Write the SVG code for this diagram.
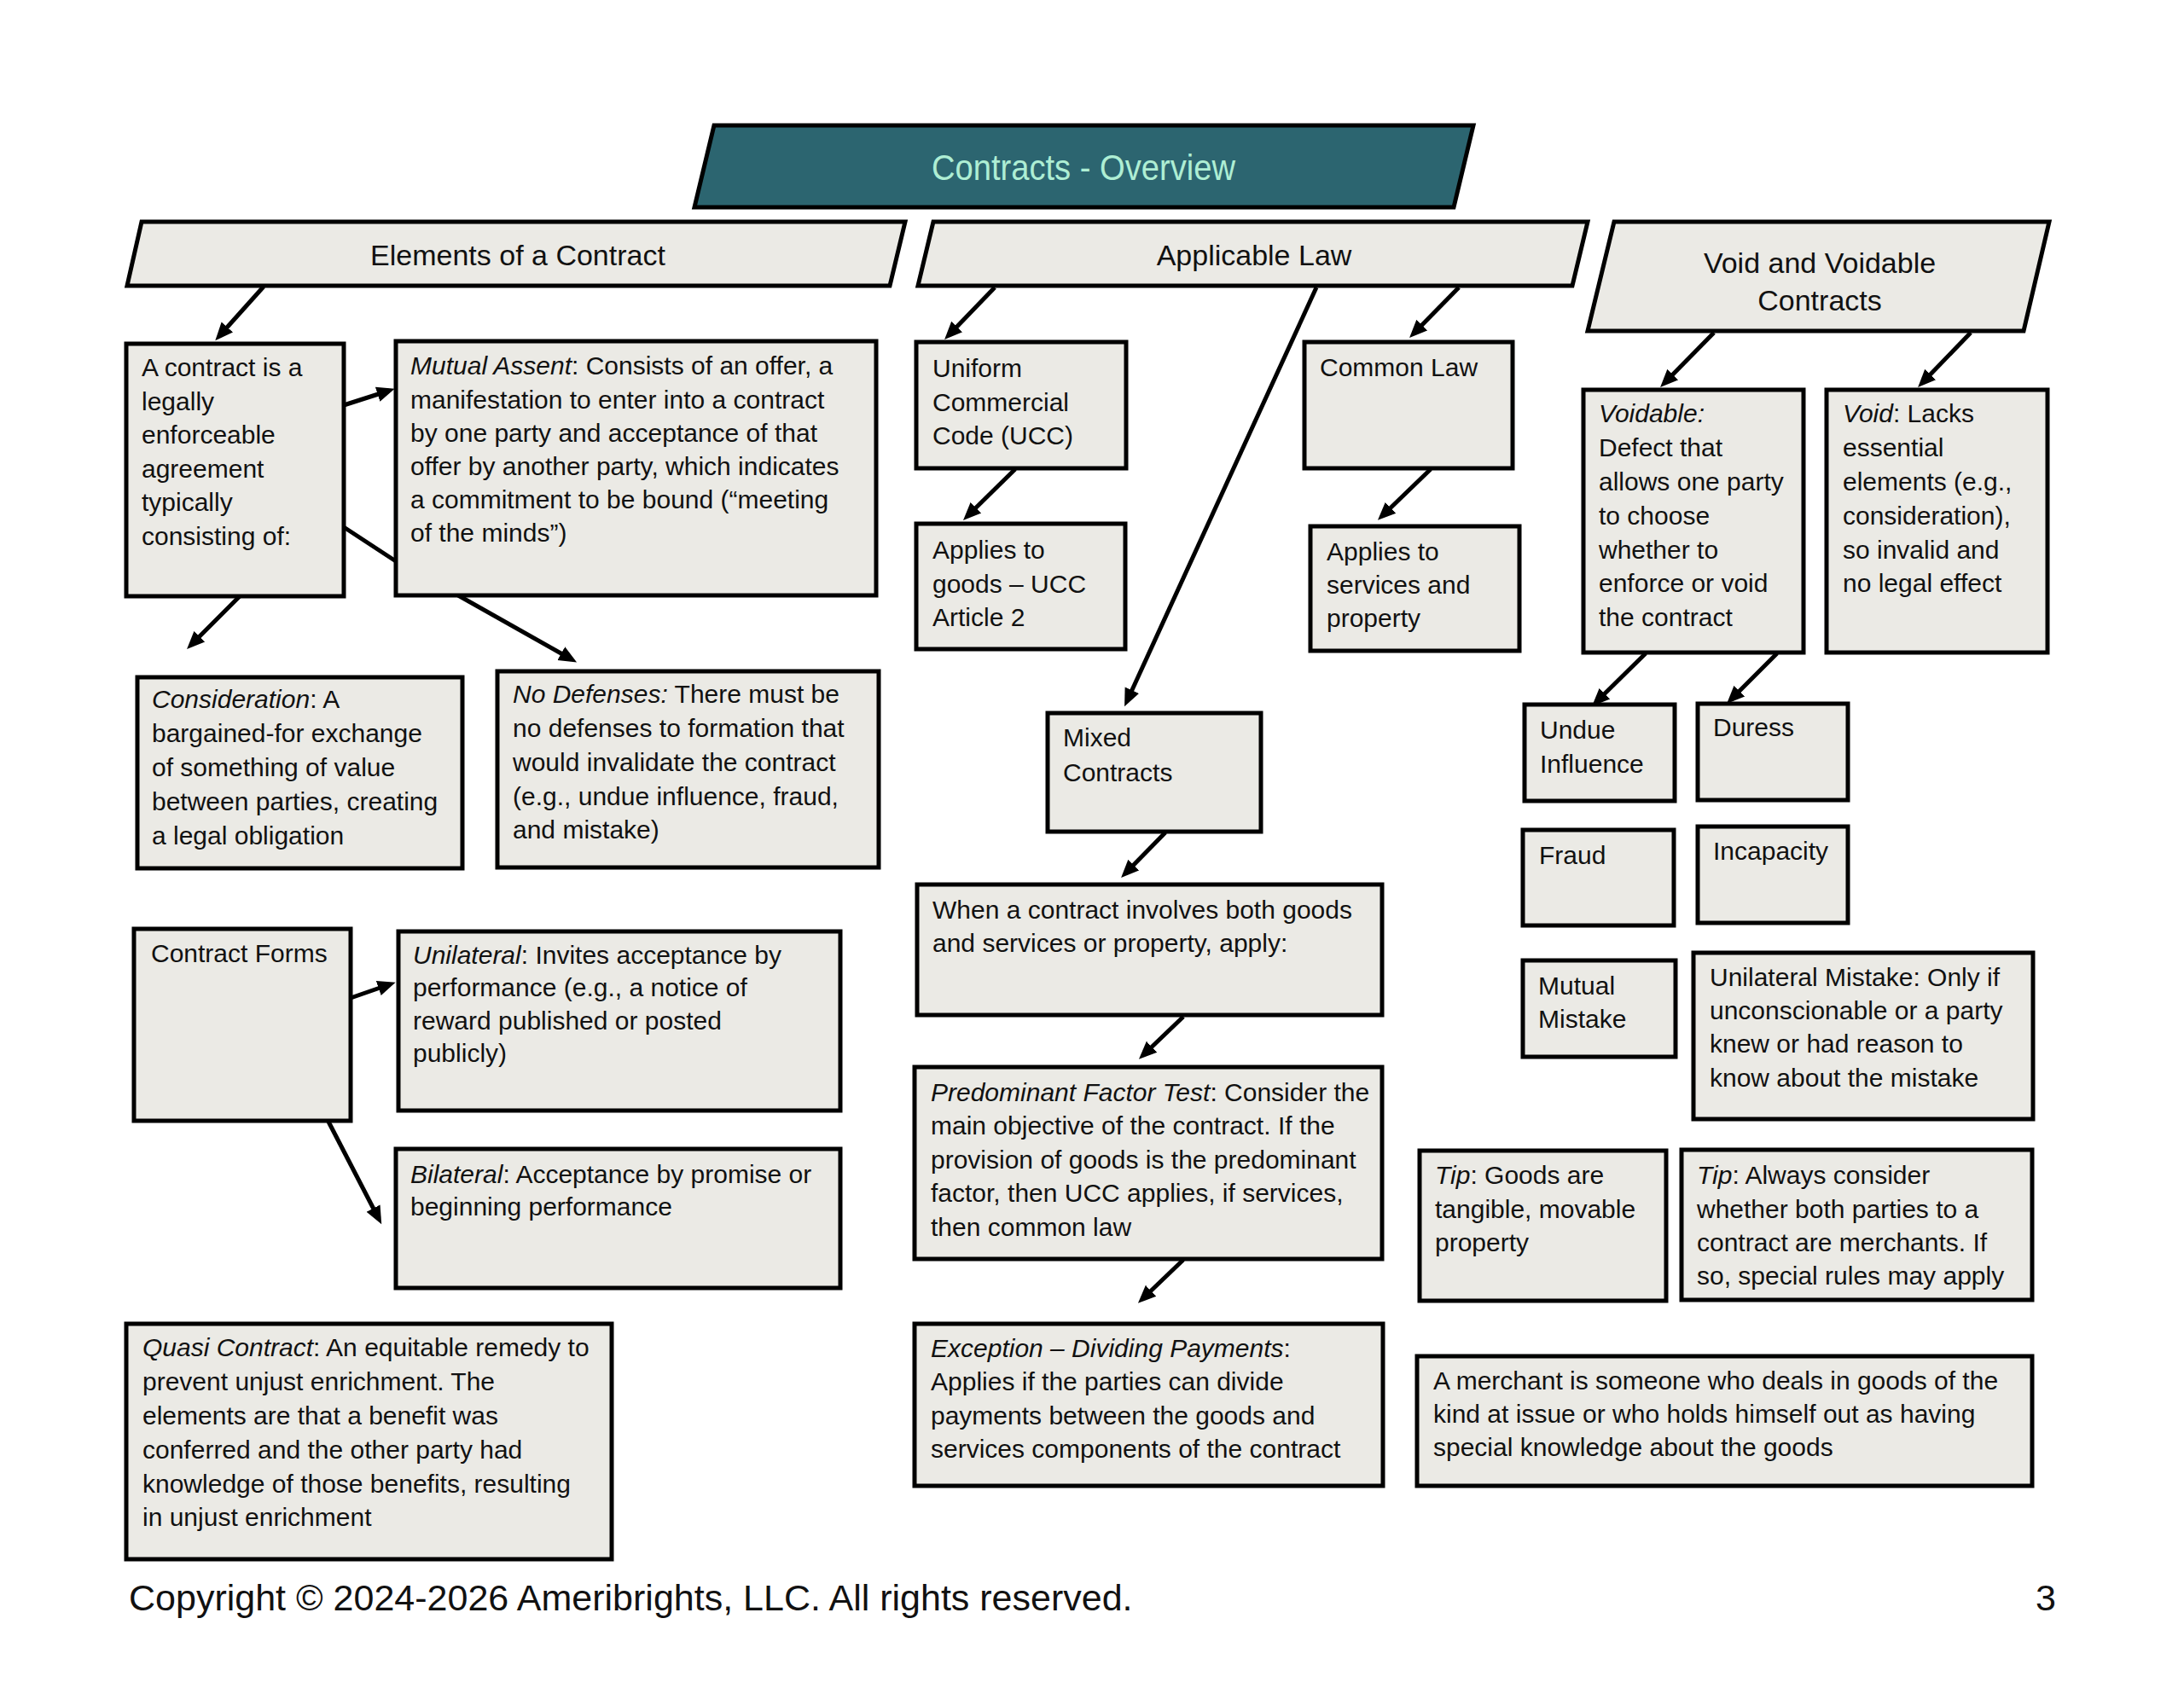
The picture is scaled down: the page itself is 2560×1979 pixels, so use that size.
<svg xmlns="http://www.w3.org/2000/svg" width="2560" height="1979" viewBox="0 0 2560 1979">
<defs>
<style>
.bg{fill:#ffffff}
.box{fill:#ebeae5;stroke:#000;stroke-width:5}
.ttl{fill:#2c6570;stroke:#000;stroke-width:5}
.c{font-family:"Liberation Sans",Arial,sans-serif;font-size:30px;fill:#111}
.r{font-family:"Liberation Sans",Arial,sans-serif;font-size:30px;fill:#111}
.h{font-family:"Liberation Sans",Arial,sans-serif;font-size:34px;fill:#111;text-anchor:middle}
.t{font-family:"Liberation Sans",Arial,sans-serif;font-size:42px;fill:#aeeed4;text-anchor:middle}
.f{font-family:"Liberation Sans",Arial,sans-serif;font-size:43px;fill:#111}
.i{font-style:italic}
.ln{stroke:#000;stroke-width:5;fill:none}
.ar{stroke:#000;stroke-width:5;fill:none;marker-end:url(#ah)}
</style>
<marker id="ah" markerWidth="22" markerHeight="20" refX="14" refY="10" orient="auto" markerUnits="userSpaceOnUse">
<path d="M0,1 L21,10 L0,19 z" fill="#000"/>
</marker>
</defs>
<rect class="bg" x="0" y="0" width="2560" height="1979"/>

<g id="connectors">
<line class="ar" x1="309" y1="336" x2="257" y2="394"/>
<line class="ar" x1="1166" y1="337" x2="1112" y2="393"/>
<line class="ar" x1="1543" y1="337" x2="1321" y2="822"/>
<line class="ar" x1="1710" y1="337" x2="1657" y2="391"/>
<line class="ar" x1="2009" y1="390" x2="1951" y2="449"/>
<line class="ar" x1="2310" y1="390" x2="2253" y2="449"/>
<line class="ar" x1="403" y1="475" x2="456" y2="458"/>
<line class="ln" x1="403" y1="618" x2="464" y2="658"/>
<line class="ar" x1="282" y1="698" x2="224" y2="756"/>
<line class="ar" x1="537" y1="698" x2="670" y2="773"/>
<line class="ar" x1="1190" y1="550" x2="1134" y2="605"/>
<line class="ar" x1="1677" y1="550" x2="1620" y2="605"/>
<line class="ar" x1="1366" y1="976" x2="1319" y2="1024"/>
<line class="ar" x1="1387" y1="1192" x2="1340" y2="1237"/>
<line class="ar" x1="1387" y1="1477" x2="1339" y2="1523"/>
<line class="ar" x1="1929" y1="766" x2="1871" y2="823"/>
<line class="ar" x1="2083" y1="766" x2="2029" y2="820"/>
<line class="ar" x1="411" y1="1170" x2="457" y2="1154"/>
<line class="ar" x1="385" y1="1315" x2="444" y2="1429"/>
</g>

<g id="title">
<polygon class="ttl" points="837,147 1727,147 1704,243 814,243"/>
<text class="t" x="1270" y="211" textLength="356" lengthAdjust="spacingAndGlyphs">Contracts - Overview</text>
</g>

<g id="elements">
<polygon class="box" points="166,260 1061,260 1043,335 149,335"/>
<text class="h" x="607" y="311">Elements of a Contract</text>
</g>

<g id="applicable">
<polygon class="box" points="1094,260 1861,260 1843,335 1076,335"/>
<text class="h" x="1470" y="311">Applicable Law</text>
</g>

<g id="voidvoidable">
<polygon class="box" points="1892,260 2402,260 2372,388 1861,388"/>
<text class="h" x="2133" y="320">Void and Voidable</text>
<text class="h" x="2133" y="364">Contracts</text>
</g>

<g id="contract-def">
<rect class="box" x="148" y="403" width="255" height="296"/>
<text class="c"><tspan x="166" y="441">A contract is a</tspan><tspan x="166" y="481">legally</tspan><tspan x="166" y="520">enforceable</tspan><tspan x="166" y="560">agreement</tspan><tspan x="166" y="599">typically</tspan><tspan x="166" y="639">consisting of:</tspan></text>
</g>

<g id="mutual-assent">
<rect class="box" x="464" y="400" width="563" height="298"/>
<text class="c"><tspan x="481" y="439"><tspan class="i">Mutual Assent</tspan>: Consists of an offer, a</tspan><tspan x="481" y="479">manifestation to enter into a contract</tspan><tspan x="481" y="518">by one party and acceptance of that</tspan><tspan x="481" y="557">offer by another party, which indicates</tspan><tspan x="481" y="596">a commitment to be bound (“meeting</tspan><tspan x="481" y="635">of the minds”)</tspan></text>
</g>

<g id="consideration">
<rect class="box" x="161" y="794" width="381" height="224"/>
<text class="c"><tspan x="178" y="830"><tspan class="i">Consideration</tspan>: A</tspan><tspan x="178" y="870">bargained-for exchange</tspan><tspan x="178" y="910">of something of value</tspan><tspan x="178" y="950">between parties, creating</tspan><tspan x="178" y="990">a legal obligation</tspan></text>
</g>

<g id="no-defenses">
<rect class="box" x="583" y="787" width="447" height="230"/>
<text class="c"><tspan x="601" y="824"><tspan class="i">No Defenses:</tspan> There must be</tspan><tspan x="601" y="864">no defenses to formation that</tspan><tspan x="601" y="904">would invalidate the contract</tspan><tspan x="601" y="944">(e.g., undue influence, fraud,</tspan><tspan x="601" y="983">and mistake)</tspan></text>
</g>

<g id="contract-forms">
<rect class="box" x="157" y="1089" width="254" height="225"/>
<text class="c" x="177" y="1128">Contract Forms</text>
</g>

<g id="unilateral">
<rect class="box" x="467" y="1092" width="518" height="210"/>
<text class="c"><tspan x="484" y="1130"><tspan class="i">Unilateral</tspan>: Invites acceptance by</tspan><tspan x="484" y="1168">performance (e.g., a notice of</tspan><tspan x="484" y="1207">reward published or posted</tspan><tspan x="484" y="1245">publicly)</tspan></text>
</g>

<g id="bilateral">
<rect class="box" x="464" y="1347" width="521" height="163"/>
<text class="c"><tspan x="481" y="1387"><tspan class="i">Bilateral</tspan>: Acceptance by promise or</tspan><tspan x="481" y="1425">beginning performance</tspan></text>
</g>

<g id="quasi">
<rect class="box" x="148" y="1552" width="569" height="276"/>
<text class="c"><tspan x="167" y="1590"><tspan class="i">Quasi Contract</tspan>: An equitable remedy to</tspan><tspan x="167" y="1630">prevent unjust enrichment. The</tspan><tspan x="167" y="1670">elements are that a benefit was</tspan><tspan x="167" y="1710">conferred and the other party had</tspan><tspan x="167" y="1750">knowledge of those benefits, resulting</tspan><tspan x="167" y="1789">in unjust enrichment</tspan></text>
</g>

<g id="ucc">
<rect class="box" x="1074" y="401" width="246" height="148"/>
<text class="r"><tspan x="1093" y="442">Uniform</tspan><tspan x="1093" y="482">Commercial</tspan><tspan x="1093" y="521">Code (UCC)</tspan></text>
</g>

<g id="goods">
<rect class="box" x="1074" y="614" width="245" height="147"/>
<text class="r"><tspan x="1093" y="655">Applies to</tspan><tspan x="1093" y="695">goods – UCC</tspan><tspan x="1093" y="734">Article 2</tspan></text>
</g>

<g id="common-law">
<rect class="box" x="1529" y="401" width="244" height="148"/>
<text class="r" x="1547" y="441">Common Law</text>
</g>

<g id="services">
<rect class="box" x="1536" y="617" width="245" height="146"/>
<text class="r"><tspan x="1555" y="657">Applies to</tspan><tspan x="1555" y="696">services and</tspan><tspan x="1555" y="735">property</tspan></text>
</g>

<g id="mixed">
<rect class="box" x="1228" y="836" width="250" height="139"/>
<text class="r"><tspan x="1246" y="875">Mixed</tspan><tspan x="1246" y="916">Contracts</tspan></text>
</g>

<g id="when">
<rect class="box" x="1075" y="1037" width="545" height="153"/>
<text class="r"><tspan x="1093" y="1077">When a contract involves both goods</tspan><tspan x="1093" y="1116">and services or property, apply:</tspan></text>
</g>

<g id="predominant">
<rect class="box" x="1072" y="1251" width="548" height="225"/>
<text class="r"><tspan x="1091" y="1291"><tspan class="i">Predominant Factor Test</tspan>: Consider the</tspan><tspan x="1091" y="1330">main objective of the contract. If the</tspan><tspan x="1091" y="1370">provision of goods is the predominant</tspan><tspan x="1091" y="1409">factor, then UCC applies, if services,</tspan><tspan x="1091" y="1449">then common law</tspan></text>
</g>

<g id="exception">
<rect class="box" x="1072" y="1552" width="549" height="190"/>
<text class="r"><tspan x="1091" y="1591"><tspan class="i">Exception – Dividing Payments</tspan>:</tspan><tspan x="1091" y="1630">Applies if the parties can divide</tspan><tspan x="1091" y="1670">payments between the goods and</tspan><tspan x="1091" y="1709">services components of the contract</tspan></text>
</g>

<g id="voidable">
<rect class="box" x="1856" y="457" width="258" height="308"/>
<text class="r"><tspan x="1874" y="495" class="i">Voidable:</tspan><tspan x="1874" y="535">Defect that</tspan><tspan x="1874" y="575">allows one party</tspan><tspan x="1874" y="615">to choose</tspan><tspan x="1874" y="655">whether to</tspan><tspan x="1874" y="694">enforce or void</tspan><tspan x="1874" y="734">the contract</tspan></text>
</g>

<g id="void">
<rect class="box" x="2141" y="457" width="259" height="308"/>
<text class="r"><tspan x="2160" y="495"><tspan class="i">Void</tspan>: Lacks</tspan><tspan x="2160" y="535">essential</tspan><tspan x="2160" y="575">elements (e.g.,</tspan><tspan x="2160" y="615">consideration),</tspan><tspan x="2160" y="655">so invalid and</tspan><tspan x="2160" y="694">no legal effect</tspan></text>
</g>

<g id="undue">
<rect class="box" x="1787" y="826" width="176" height="113"/>
<text class="r"><tspan x="1805" y="866">Undue</tspan><tspan x="1805" y="906">Influence</tspan></text>
</g>

<g id="duress">
<rect class="box" x="1990" y="825" width="176" height="113"/>
<text class="r" x="2008" y="863">Duress</text>
</g>

<g id="fraud">
<rect class="box" x="1785" y="973" width="177" height="112"/>
<text class="r" x="1804" y="1013">Fraud</text>
</g>

<g id="incapacity">
<rect class="box" x="1990" y="969" width="176" height="113"/>
<text class="r" x="2008" y="1008">Incapacity</text>
</g>

<g id="mutual-mistake">
<rect class="box" x="1785" y="1126" width="179" height="113"/>
<text class="r"><tspan x="1803" y="1166">Mutual</tspan><tspan x="1803" y="1205">Mistake</tspan></text>
</g>

<g id="unilateral-mistake">
<rect class="box" x="1985" y="1117" width="398" height="195"/>
<text class="r"><tspan x="2004" y="1156">Unilateral Mistake: Only if</tspan><tspan x="2004" y="1195">unconscionable or a party</tspan><tspan x="2004" y="1234">knew or had reason to</tspan><tspan x="2004" y="1274">know about the mistake</tspan></text>
</g>

<g id="tip-goods">
<rect class="box" x="1664" y="1349" width="289" height="176"/>
<text class="r"><tspan x="1682" y="1388"><tspan class="i">Tip</tspan>: Goods are</tspan><tspan x="1682" y="1428">tangible, movable</tspan><tspan x="1682" y="1467">property</tspan></text>
</g>

<g id="tip-merchants">
<rect class="box" x="1971" y="1348" width="411" height="176"/>
<text class="r"><tspan x="1989" y="1388"><tspan class="i">Tip</tspan>: Always consider</tspan><tspan x="1989" y="1428">whether both parties to a</tspan><tspan x="1989" y="1467">contract are merchants. If</tspan><tspan x="1989" y="1506">so, special rules may apply</tspan></text>
</g>

<g id="merchant">
<rect class="box" x="1661" y="1590" width="721" height="152"/>
<text class="r"><tspan x="1680" y="1629">A merchant is someone who deals in goods of the</tspan><tspan x="1680" y="1668">kind at issue or who holds himself out as having</tspan><tspan x="1680" y="1707">special knowledge about the goods</tspan></text>
</g>

<g id="footer">
<text class="f" x="151" y="1888">Copyright © 2024-2026 Ameribrights, LLC. All rights reserved.</text>
<text class="f" x="2410" y="1888" text-anchor="end">3</text>
</g>
</svg>
